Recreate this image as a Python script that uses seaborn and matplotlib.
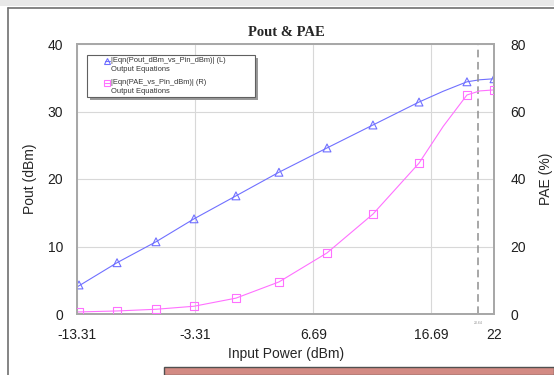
import numpy as np
import pandas as pd
import seaborn as sns
import matplotlib.pyplot as plt
from matplotlib.lines import Line2D
from matplotlib.patches import Rectangle

# data
pin_mk = [-13.14, -9.92, -6.62, -3.40, 0.15, 3.79, 7.86, 11.75, 15.65, 19.71, 22.0]
pout_mk = [4.3, 7.6, 10.7, 14.1, 17.5, 21.0, 24.6, 28.0, 31.4, 34.4, 34.85]
pae_mk = [0.7, 0.9, 1.4, 2.3, 4.7, 9.5, 18.1, 29.6, 44.7, 64.9, 66.4]

pin_line = [-13.31, -9.92, -6.62, -3.40, 0.15, 3.79, 7.86, 11.75, 15.65, 17.7, 19.71, 20.8, 22.0]
pout_line = [4.0, 7.6, 10.7, 14.1, 17.5, 21.0, 24.6, 28.0, 31.4, 33.0, 34.4, 34.7, 34.85]
pae_line = [0.6, 0.9, 1.4, 2.3, 4.7, 9.5, 18.1, 29.6, 44.7, 55.6, 64.9, 66.1, 66.4]

xticks = [-13.31, -3.31, 6.69, 16.69, 22]
xtick_labels = ["-13.31", "-3.31", "6.69", "16.69", "22"]
marker_x = 20.64

legend_names = ["|Eqn(Pout_dBm_vs_Pin_dBm)| (L)", "|Eqn(PAE_vs_Pin_dBm)| (R)"]

df_mk = pd.DataFrame({"pin": pin_mk, "pout": pout_mk, "pae": pae_mk})
df_line = pd.DataFrame({"pin": pin_line, "pout": pout_line, "pae": pae_line})

sns.set_style("white")
plt.rcParams["font.family"] = ["Liberation Sans", "DejaVu Sans"]

blue = "#7070ff"
pink = "#ff70ff"
W, H = 554, 375

def fx(px):
    return px / W

def fy(py):
    return 1 - py / H

fig = plt.figure(figsize=(5.54, 3.75), dpi=100)
ax = fig.add_axes([fx(77), fy(314), 417/W, 270/H])
ax2 = ax.twinx()

#lines
sns.lineplot(data=df_line, x="pin", y="pout", ax=ax, color=blue, lw=0.8)
sns.lineplot(data=df_line, x="pin", y="pae", ax=ax2, color=pink, lw=0.8)
#markers
sns.scatterplot(data=df_mk, x="pin", y="pout", ax=ax, marker="^", s=32,
                facecolor="none", edgecolor=blue, linewidth=0.8, zorder=3)
sns.scatterplot(data=df_mk, x="pin", y="pae", ax=ax2, marker="s", s=30,
                facecolor="none", edgecolor=pink, linewidth=0.8, zorder=3)

ax.set_xlim(-13.31, 22)
ax.set_ylim(0, 40)
ax2.set_ylim(0, 80)
ax.set_xticks(xticks)
ax.set_xticklabels(xtick_labels)
ax.set_yticks([0, 10, 20, 30, 40])
ax2.set_yticks([0, 20, 40, 60, 80])

ax.grid(True, color="#d8d8d8", lw=0.8)
ax.set_axisbelow(True)
ax.axvline(marker_x, color="#909090", ls=(0, (5, 3)), lw=1.1)
ax.text(marker_x, -1.0, "20.64", fontsize=2.5, color="#909090", ha="center", va="top")

for a in (ax, ax2):
    a.set_xlabel("")
    a.set_ylabel("")
    for s in a.spines.values():
        s.set_color("#a8a8a8")
        s.set_linewidth(1.4)
ax.tick_params(axis="both", length=0, labelsize=10, colors="#202020")
ax.tick_params(axis="x", pad=10)
ax.tick_params(axis="y", pad=10)
ax2.tick_params(axis="y", length=0, labelsize=10, colors="#202020", pad=12)

fig.text(fx(30), fy(179), "Pout (dBm)", rotation=90, ha="center", va="center", fontsize=10)
fig.text(fx(546), fy(179), "PAE (%)", rotation=90, ha="center", va="center", fontsize=10)
fig.text(fx(286), fy(354), "Input Power (dBm)", ha="center", va="center", fontsize=10)
fig.text(fx(286), fy(33), "Pout & PAE", ha="center", va="center", fontsize=10.5,
         fontweight="bold", family="Liberation Serif")

#legend box drawn by hand (AWR style, with shadow)
fig.patches.append(Rectangle((fx(90), fy(100)), 168/W, 42/H, transform=fig.transFigure,
                             facecolor="#9a9a9a", edgecolor="none", zorder=20))
fig.patches.append(Rectangle((fx(87), fy(97)), 168/W, 42/H, transform=fig.transFigure,
                             facecolor="white", edgecolor="#606060", lw=0.8, zorder=21))
for i, (name, col, mk) in enumerate(zip(legend_names, [blue, pink], ["^", "s"])):
    y0 = 61 + 22 * i
    fig.add_artist(Line2D([fx(104.5), fx(109.5)], [fy(y0), fy(y0)], color=col, lw=0.8,
                          marker=mk, markevery=[0], mfc="none", mec=col, ms=0, zorder=22))
    fig.add_artist(Line2D([fx(107)], [fy(y0)], color=col, marker=mk, mfc="none",
                          mec=col, ms=4.2, mew=0.8, zorder=22))
    fig.text(fx(111), fy(y0), name, fontsize=5.4, color="#333333", ha="left",
             va="center", zorder=22)
    fig.text(fx(111), fy(y0 + 8.5), "Output Equations", fontsize=5.4, color="#333333",
             ha="left", va="center", zorder=22)

#window decorations
fig.patches.append(Rectangle((0, fy(6)), 1, 6/H, transform=fig.transFigure,
                             facecolor="#e8e8e8", edgecolor="none"))
fig.add_artist(Line2D([fx(8), 1], [fy(8), fy(8)], color="#707070", lw=1.2))
fig.add_artist(Line2D([fx(8), fx(8)], [0, fy(8)], color="#707070", lw=1.2))
fig.patches.append(Rectangle((fx(164), 0), 1 - fx(164), 8/H, transform=fig.transFigure,
                             facecolor="#d38b84", edgecolor="#505050", lw=1.0))

fig.savefig("out.png", dpi=100)
